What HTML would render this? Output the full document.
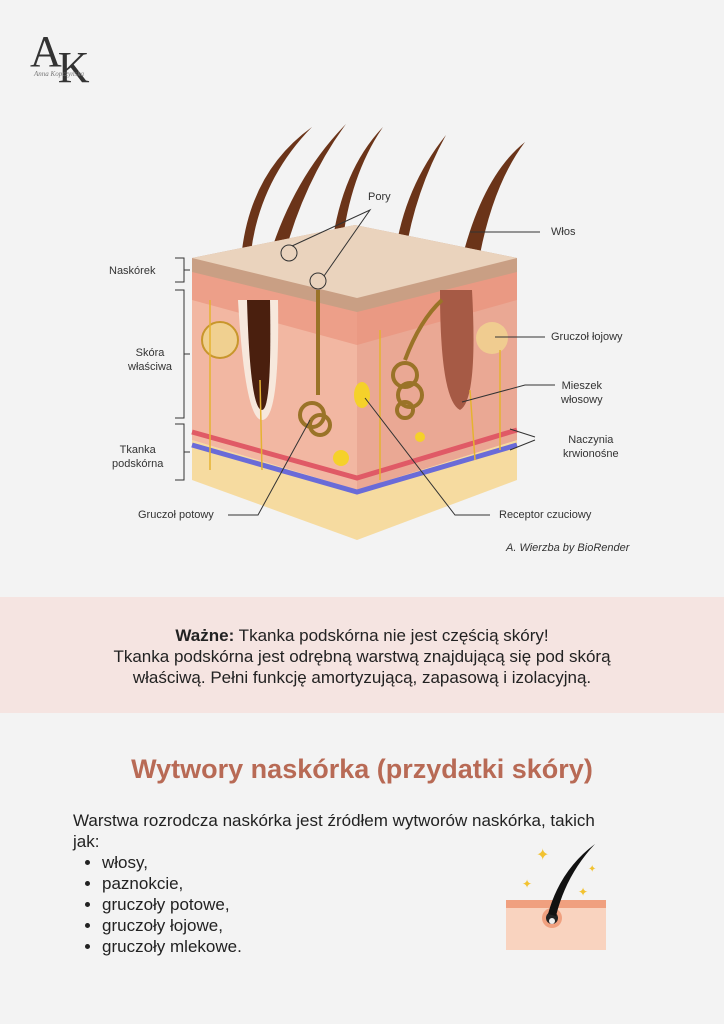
<!DOCTYPE html>
<html><head><meta charset="utf-8"><style>
body{margin:0;width:724px;height:1024px;background:#f3f3f3;font-family:"Liberation Sans",sans-serif;position:relative;overflow:hidden;color:#222}
.a{position:absolute}
.lbl{position:absolute;font-size:11px;color:#333}
</style></head><body>
<div class="a" style="left:30px;top:26px;font-family:'Liberation Serif',serif;font-size:44px;color:#333;letter-spacing:-4px">A<span style="position:relative;top:16px">K</span></div>
<div class="a" style="left:34px;top:70px;font-family:'Liberation Serif',serif;font-style:italic;font-size:7px;color:#777">Anna Kopczyńska</div>

<svg class="a" style="left:0;top:0" width="724" height="600">
<g fill="#6b3419">
<path d="M242,250 Q252,170 312,127 Q260,180 251,252Z"/>
<path d="M248,400 Q252,220 346,124 Q268,230 266,400Z"/>
<path d="M332,245 Q342,170 383,127 Q350,175 342,246Z"/>
<path d="M394,262 Q402,190 446,135 Q413,195 404,263Z"/>
<path d="M442,410 Q452,200 525,142 Q466,220 468,410Z"/>
</g>
<path d="M192,440 L357,490 L517,440 L517,480 L357,540 L192,480Z" fill="#f6dba0"/>
<path d="M192,270 L357,310 L517,270 L517,440 L357,490 L192,440Z" fill="#f2b7a2"/>
<path d="M357,310 L517,270 L517,440 L357,490Z" fill="#eaa894"/>
<path d="M192,270 L357,310 L517,270 L517,300 L357,345 L192,300Z" fill="#e98f78" opacity=".6"/>
<path d="M192,432 L357,478 L517,430" stroke="#e05a66" stroke-width="5" fill="none"/>
<path d="M192,445 L357,492 L517,445" stroke="#6a6bd8" stroke-width="5" fill="none"/>
<path d="M192,258 L355,225 L517,258 L517,272 L357,312 L192,272Z" fill="#c99f84"/>
<path d="M192,258 L355,225 L517,258 L357,298Z" fill="#ead3bd"/>
<path d="M238,300 Q245,420 262,420 Q280,420 278,300Z" fill="#f7e8dc"/>
<path d="M247,300 Q250,410 262,410 Q272,410 270,300Z" fill="#4a1f0e"/>
<path d="M440,290 Q440,400 460,410 Q478,400 472,290Z" fill="#a65a45"/>
<circle cx="220" cy="340" r="18" fill="#f0d090" stroke="#c8962c" stroke-width="2"/>
<circle cx="492" cy="338" r="16" fill="#f0cc90"/>
<g fill="none" stroke="#9a7328" stroke-width="4">
<path d="M318,290 L318,395"/>
<circle cx="312" cy="415" r="12"/><circle cx="320" cy="425" r="10"/>
<circle cx="405" cy="375" r="12"/><circle cx="410" cy="395" r="12"/><circle cx="405" cy="410" r="8"/>
<path d="M405,360 Q420,320 442,300"/>
</g>
<g fill="#f5d12a"><ellipse cx="362" cy="395" rx="8" ry="13"/><circle cx="341" cy="458" r="8"/><circle cx="420" cy="437" r="5"/></g>
<g fill="none" stroke="#e5b330" stroke-width="1.5">
<path d="M210,300 L210,470"/><path d="M260,380 L262,470"/><path d="M380,330 L380,480"/><path d="M470,390 L475,460"/><path d="M500,350 L500,450"/>
</g>
<g stroke="#333" stroke-width="1" fill="none">
<circle cx="289" cy="253" r="8"/><circle cx="318" cy="281" r="8"/>
<path d="M292,246 L370,210 L324,276"/>
<path d="M470,232 L540,232"/>
<path d="M495,337 L545,337"/>
<path d="M462,402 L525,385 L555,385"/>
<path d="M510,429 L535,437 M510,450 L535,440"/>
<path d="M310,420 L258,515 L228,515"/>
<path d="M365,398 L455,515 L490,515"/>
<path d="M175,258 L184,258 L184,282 L175,282 M184,270 L190,270"/>
<path d="M175,290 L184,290 L184,418 L175,418 M184,354 L190,354"/>
<path d="M175,424 L184,424 L184,480 L175,480 M184,452 L190,452"/>
</g>
</svg>
<div class="lbl" style="left:368px;top:191px">Pory</div>
<div class="lbl" style="left:551px;top:226px">Włos</div>
<div class="lbl" style="left:109px;top:265px">Naskórek</div>
<div class="lbl" style="left:128px;top:346px;text-align:center;line-height:14px">Skóra<br>właściwa</div>
<div class="lbl" style="left:112px;top:443px;text-align:center;line-height:14px">Tkanka<br>podskórna</div>
<div class="lbl" style="left:551px;top:331px">Gruczoł łojowy</div>
<div class="lbl" style="left:561px;top:379px;text-align:center;line-height:14px">Mieszek<br>włosowy</div>
<div class="lbl" style="left:563px;top:433px;text-align:center;line-height:14px">Naczynia<br>krwionośne</div>
<div class="lbl" style="left:138px;top:509px">Gruczoł potowy</div>
<div class="lbl" style="left:499px;top:509px">Receptor czuciowy</div>
<div class="lbl" style="left:506px;top:542px;font-style:italic">A. Wierzba by BioRender</div>

<div class="a" style="left:0;top:597px;width:724px;height:116px;background:#f5e4e1"></div>
<div class="a" style="left:0;top:625px;width:724px;text-align:center;font-size:17px;line-height:21px;color:#222"><b>Ważne:</b> Tkanka podskórna nie jest częścią skóry!<br>Tkanka podskórna jest odrębną warstwą znajdującą się pod skórą<br>właściwą. Pełni funkcję amortyzującą, zapasową i izolacyjną.</div>

<div class="a" style="left:0;top:754px;width:724px;text-align:center;font-size:27px;font-weight:bold;color:#b86a55">Wytwory naskórka (przydatki skóry)</div>
<div class="a" style="left:73px;top:810px;font-size:17px;line-height:21px">Warstwa rozrodcza naskórka jest źródłem wytworów naskórka, takich<br>jak:</div>
<ul class="a" style="left:60px;top:852px;margin:0;padding-left:42px;font-size:17px;line-height:21px">
<li>włosy,</li><li>paznokcie,</li><li>gruczoły potowe,</li><li>gruczoły łojowe,</li><li>gruczoły mlekowe.</li></ul>

<svg class="a" style="left:490px;top:830px" width="130" height="130">
<rect x="16" y="70" width="100" height="50" fill="#f9d3bf"/>
<rect x="16" y="70" width="100" height="8" fill="#f0a07f"/>
<circle cx="62" cy="88" r="10" fill="#f0a07f"/>
<circle cx="62" cy="88" r="6" fill="#222"/><circle cx="62" cy="91" r="3" fill="#eee"/>
<path d="M58,84 Q70,40 105,14 Q76,45 66,86Z" fill="#111"/>
<g fill="#f2c230"><text x="46" y="30" font-size="16">✦</text><text x="32" y="58" font-size="12">✦</text><text x="98" y="42" font-size="10">✦</text><text x="88" y="66" font-size="12">✦</text></g>
</svg>
</body></html>
